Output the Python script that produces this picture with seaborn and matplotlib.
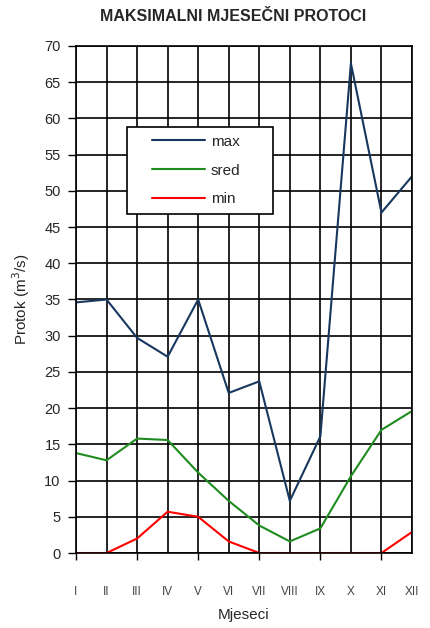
import matplotlib
matplotlib.use("Agg")
import matplotlib.pyplot as plt
from matplotlib.patches import Rectangle
import seaborn as sns
import pandas as pd

months = ["I", "II", "III", "IV", "V", "VI", "VII", "VIII", "IX", "X", "XI", "XII"]
q_max = [34.6, 35.0, 29.7, 27.1, 35.0, 22.1, 23.7, 7.2, 16.1, 67.6, 47.0, 52.0]
q_sred = [13.8, 12.8, 15.8, 15.6, 11.1, 7.2, 3.8, 1.6, 3.4, 10.6, 17.0, 19.6]
q_min = [0.0, 0.0, 2.0, 5.7, 5.0, 1.6, 0.0, 0.0, 0.0, 0.0, 0.0, 2.9]
series = ["max", "sred", "min"]
colors = {"max": "#17375E", "sred": "#1E8C1E", "min": "#FF0000"}

rows = []
for name, vals in zip(series, [q_max, q_sred, q_min]):
    for i, (m, v) in enumerate(zip(months, vals)):
        rows.append({"idx": i, "month": m, "value": v, "series": name})
df = pd.DataFrame(rows)

sns.set_style("white")
plt.rcParams["font.family"] = ["Liberation Sans", "DejaVu Sans"]

fig = plt.figure(figsize=(4.31, 6.28), dpi=100)
ax = fig.add_axes([0.1763, 0.1194, 0.7796, 0.8074])

sns.lineplot(data=df, x="idx", y="value", hue="series", hue_order=series,
             palette=colors, linewidth=1.5, ax=ax, legend=True)

ax.set_xlim(0, 11)
ax.set_ylim(0, 70)
ax.set_yticks(range(0, 71, 5))
ax.set_xticks(range(12))
ax.set_xticklabels(months, fontsize=8.5, color="#444444")
ax.tick_params(axis="y", labelsize=10.5, length=6, width=1, color="black",
               direction="out", left=True, pad=5)
ax.tick_params(axis="x", length=5, width=1, color="black", direction="out",
               bottom=True, pad=19)
for i, t in enumerate(ax.xaxis.get_major_ticks()):
    t.tick1line.set_visible(i % 2 == 0)

ax.grid(True, color="black", linewidth=1.2)
ax.set_axisbelow(True)
for s in ax.spines.values():
    s.set_color("black")
    s.set_linewidth(1.2)

ax.set_xlabel("Mjeseci", fontsize=11, labelpad=7)
ax.set_ylabel("Protok (m$^3$/s)", fontsize=11, labelpad=9)
fig.text(0.541, 0.973, "MAKSIMALNI MJESEČNI PROTOCI", ha="center", va="center",
         fontsize=11.5, fontweight="bold")

# legend box
box = Rectangle((0.152, 0.669), 0.4345, 0.1716, transform=ax.transAxes,
                facecolor="white", edgecolor="black", linewidth=1.2, zorder=4)
ax.add_patch(box)
leg = ax.legend(loc="center left", bbox_to_anchor=(0.226, 0.7544), fontsize=11,
                frameon=False, handlelength=3.5, handletextpad=0.35,
                labelspacing=0.98, borderpad=0, borderaxespad=0)
leg.set_zorder(5)
for line in leg.get_lines():
    line.set_linewidth(1.5)

fig.savefig("out.png", dpi=100)
